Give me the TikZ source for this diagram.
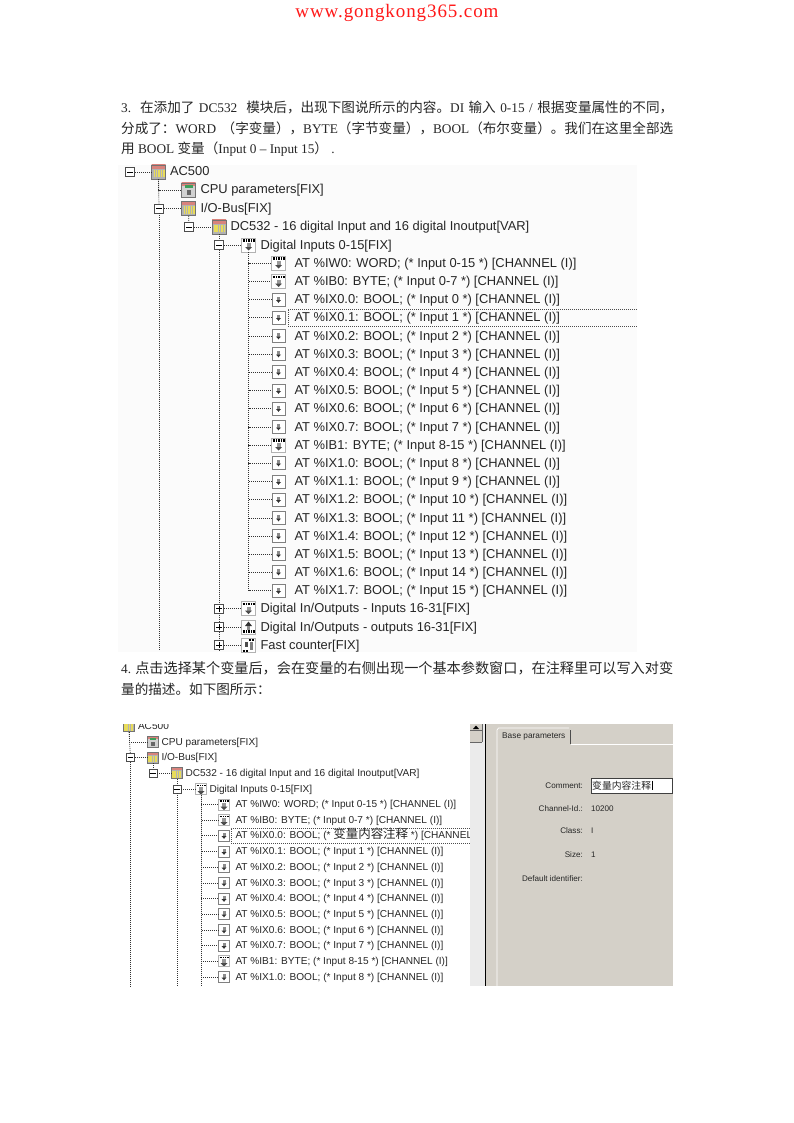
\documentclass[tikz,border=0pt]{standalone}
\usepackage{fontspec}
\usetikzlibrary{positioning}
\setmainfont{Liberation Serif}
\newfontfamily\cjk[Scale=1.022]{Noto Sans CJK SC}
\newfontfamily\treefont{Liberation Sans}
\newfontfamily\webfont[LetterSpace=4.8]{Liberation Serif}
\newcommand{\fulline}[1]{\hbox to 552pt{#1}}
\newcommand{\zdou}{^^^^ff0c}
\newcommand{\zmao}{^^^^ff1a}
\newcommand{\zlp}{^^^^ff08}
\newcommand{\zrp}{^^^^ff09}
\definecolor{panelgrey}{HTML}{D4D0C8}
\definecolor{sheetwhite}{HTML}{FBFBFB}
\definecolor{rackred}{HTML}{D9837C}
\definecolor{rackyellow}{HTML}{E8DC5A}
\definecolor{cpugreen}{HTML}{3E9E5A}
\tikzset{
  para/.style={anchor=west,inner sep=0pt,font=\fontsize{13.3}{15}\selectfont,text=black!85},
  treeline/.style={draw=black!80,line width=0.7pt,dash pattern=on 1pt off 1pt},
  selbox/.style={draw=black!70,line width=0.6pt,dash pattern=on 1pt off 1pt},
  expbox/.style={draw=black!70,fill=white,inner sep=0pt,minimum size=9pt,line width=0.6pt,
    path picture={\draw[black,line width=0.7pt] ([shift={(-3,0)}]path picture bounding box.center) -- ++(6,0);}},
  expplus/.style={expbox,
    path picture={\draw[black,line width=0.7pt] ([shift={(-3,0)}]path picture bounding box.center) -- ++(6,0)
      ([shift={(0,-3)}]path picture bounding box.center) -- ++(0,6);}},
  iconbase/.style={inner sep=0pt,minimum width=#1,minimum height=#1,draw=black!55,fill=black!30,line width=0.6pt},
  iconbase/.default=13pt,
  rackicon/.style={iconbase=#1,
    path picture={\fill[rackred] ([shift={(-8,-8)}]path picture bounding box.center) rectangle ++(16,5);
      \draw[rackyellow,line width=#1*0.55,dash pattern=on 1.5pt off 0.9pt] ([shift={(-5,1.5)}]path picture bounding box.center) -- ++(11,0);}},
  rackicon/.default=14pt,
  cpuicon/.style={iconbase=14pt,fill=black!18,
    path picture={\fill[rackred] ([shift={(-8,-8)}]path picture bounding box.center) rectangle ++(16,4);
      \fill[cpugreen] ([shift={(-4,-4.5)}]path picture bounding box.center) rectangle ++(8,2.5);
      \fill[black!60] ([shift={(-2,0)}]path picture bounding box.center) rectangle ++(4,5);}},
  bitsicon/.style={iconbase=#1,fill=white,draw=black!30,
    path picture={\draw[black,line width=#1*0.16,dash pattern=on 0.9pt off 0.8pt] ([shift={(-6,#1*0.32)}]path picture bounding box.center) -- ++(12,0);
      \fill[black!40] ([shift={(-2,-2)}]path picture bounding box.center) rectangle ++(4,5);
      \fill[black!70] ([shift={(-3.5,2)}]path picture bounding box.center) -- ++(7,0) -- ++(-3.5,3.5) -- cycle;}},
  bitsicon/.default=14pt,
  boolicon/.style={iconbase=#1,fill=white,draw=black!50,
    path picture={\fill[black!45] ([shift={(-1.5,-3)}]path picture bounding box.center) rectangle ++(3,4);
      \fill[black!80] ([shift={(-2.5,0.5)}]path picture bounding box.center) -- ++(5,0) -- ++(-2.5,2.8) -- cycle;}},
  boolicon/.default=13pt,
  outicon/.style={iconbase=14pt,fill=white,draw=black!30,
    path picture={\draw[black,line width=2.2pt,dash pattern=on 0.9pt off 0.8pt] ([shift={(-6,4.5)}]path picture bounding box.center) -- ++(12,0);
      \fill[black!80] ([shift={(-3.5,-1)}]path picture bounding box.center) -- ++(7,0) -- ++(-3.5,-4.5) -- cycle;
      \fill[black!45] ([shift={(-1.5,-1)}]path picture bounding box.center) rectangle ++(3,3.5);}},
  fasticon/.style={iconbase=14pt,fill=white,draw=black!30,
    path picture={\draw[black,line width=2pt,dash pattern=on 0.9pt off 0.7pt] ([shift={(0,-5.5)}]path picture bounding box.center) -- ++(6,0)
        ([shift={(-6,5.5)}]path picture bounding box.center) -- ++(6,0);
      \fill[black!70] ([shift={(-4,-3)}]path picture bounding box.center) rectangle ++(3,5);
      \fill[black!50] ([shift={(1,-3)}]path picture bounding box.center) rectangle ++(3,8);}},
  rowa/.style={anchor=west,inner sep=0pt,text height=10.5pt,text depth=2.5pt,font=\treefont\fontsize{12.9}{14}\selectfont,text=black!85},
  rowb/.style={anchor=west,inner sep=0pt,text height=8.5pt,text depth=2pt,font=\treefont\fontsize{10.1}{12}\selectfont,text=black!85},
  formlabel/.style={anchor=east,inner sep=0pt,font=\treefont\fontsize{8.1}{10}\selectfont,text=black!85},
  formvalue/.style={anchor=west,inner sep=0pt,font=\treefont\fontsize{8.1}{10}\selectfont,text=black!85},
}
\begin{document}
\begin{tikzpicture}[x=1pt,y=-1pt]
\useasboundingbox (0,0) rectangle (794,1123);
\fill[white] (0,0) rectangle (794,1123);
% header and the two paragraphs
\node[anchor=center,inner sep=0pt,text=red!90,font=\webfont\fontsize{19}{20}\selectfont] (site) at (397,13) {www.gongkong365.com};
\node[para] (p1) at (121,107) {\fulline{3.\ \ {\cjk 在添加了} DC532\ \ {\cjk 模块后\zdou 出现下图说所示的内容。}DI {\cjk 输入} 0-15 / {\cjk 根据变量属性的不同\zdou}}};
\node[para] (p2) at (121,128) {\fulline{{\cjk 分成了\zmao}WORD {\cjk\zlp 字变量\zrp\zdou}BYTE{\cjk\zlp 字节变量\zrp\zdou}BOOL{\cjk\zlp 布尔变量\zrp 。我们在这里全部选}}};
\node[para] (p3) at (121,149) {{\cjk 用} BOOL {\cjk 变量\zlp}Input 0 -- Input 15{\cjk\zrp}\ .};
\node[para] (p4) at (121,668) {\fulline{4.\ {\cjk\fontsize{13.85}{15}\selectfont 点击选择某个变量后\zdou 会在变量的右侧出现一个基本参数窗口\zdou 在注释里可以写入对变}}};
\node[para] (p5) at (121,689) {{\cjk 量的描述。如下图所示\zmao}};
% first screenshot
\fill[sheetwhite] (118,165) rectangle (637,652);
\node[expbox] (abox) at (130,172) {};
\node[rackicon] (aroot) at (158.5,172) {};
\node[rowa,right=4pt of aroot] (aroott) {AC500};
\node[cpuicon] (acpu) at (188.5,190) {};
\node[rowa,right=4.5pt of acpu] (acput) {CPU parameters[FIX]};
\node[expbox] (aiobox) at (159,208.5) {};
\node[rackicon] (aio) at (188.5,208.5) {};
\node[rowa,right=4.5pt of aio] (aiot) {I/O-Bus[FIX]};
\node[expbox] (adcbox) at (189,227) {};
\node[rackicon] (adc) at (219,227) {};
\node[rowa,right=4pt of adc] (adct) {DC532 - 16 digital Input and 16 digital Inoutput[VAR]};
\node[expbox] (adibox) at (219,245) {};
\node[bitsicon] (adi) at (248.5,245) {};
\node[rowa,right=4.5pt of adi] (adit) {Digital Inputs 0-15[FIX]};
\node[bitsicon] (aw0) at (278.5,263) {};
\node[rowa,right=8.5pt of aw0] (aw0t) {AT \%IW0: WORD; (* Input 0-15 *) [CHANNEL (I)]};
\node[bitsicon] (ab0) at (278.5,281.5) {};
\node[rowa,right=8.5pt of ab0] (ab0t) {AT \%IB0: BYTE; (* Input 0-7 *) [CHANNEL (I)]};
\node[boolicon] (ax00) at (278.5,299.5) {};
\node[rowa,right=9pt of ax00] (ax00t) {AT \%IX0.0: BOOL; (* Input 0 *) [CHANNEL (I)]};
\node[boolicon] (ax01) at (278.5,317.5) {};
\node[rowa,right=9pt of ax01] (ax01t) {AT \%IX0.1: BOOL; (* Input 1 *) [CHANNEL (I)]};
\node[boolicon] (ax02) at (278.5,336) {};
\node[rowa,right=9pt of ax02] (ax02t) {AT \%IX0.2: BOOL; (* Input 2 *) [CHANNEL (I)]};
\node[boolicon] (ax03) at (278.5,354) {};
\node[rowa,right=9pt of ax03] (ax03t) {AT \%IX0.3: BOOL; (* Input 3 *) [CHANNEL (I)]};
\node[boolicon] (ax04) at (278.5,372) {};
\node[rowa,right=9pt of ax04] (ax04t) {AT \%IX0.4: BOOL; (* Input 4 *) [CHANNEL (I)]};
\node[boolicon] (ax05) at (278.5,390.5) {};
\node[rowa,right=9pt of ax05] (ax05t) {AT \%IX0.5: BOOL; (* Input 5 *) [CHANNEL (I)]};
\node[boolicon] (ax06) at (278.5,408.5) {};
\node[rowa,right=9pt of ax06] (ax06t) {AT \%IX0.6: BOOL; (* Input 6 *) [CHANNEL (I)]};
\node[boolicon] (ax07) at (278.5,427) {};
\node[rowa,right=9pt of ax07] (ax07t) {AT \%IX0.7: BOOL; (* Input 7 *) [CHANNEL (I)]};
\node[bitsicon] (ab1) at (278.5,445) {};
\node[rowa,right=8.5pt of ab1] (ab1t) {AT \%IB1: BYTE; (* Input 8-15 *) [CHANNEL (I)]};
\node[boolicon] (ax10) at (278.5,463) {};
\node[rowa,right=9pt of ax10] (ax10t) {AT \%IX1.0: BOOL; (* Input 8 *) [CHANNEL (I)]};
\node[boolicon] (ax11) at (278.5,481.5) {};
\node[rowa,right=9pt of ax11] (ax11t) {AT \%IX1.1: BOOL; (* Input 9 *) [CHANNEL (I)]};
\node[boolicon] (ax12) at (278.5,499.5) {};
\node[rowa,right=9pt of ax12] (ax12t) {AT \%IX1.2: BOOL; (* Input 10 *) [CHANNEL (I)]};
\node[boolicon] (ax13) at (278.5,518) {};
\node[rowa,right=9pt of ax13] (ax13t) {AT \%IX1.3: BOOL; (* Input 11 *) [CHANNEL (I)]};
\node[boolicon] (ax14) at (278.5,536) {};
\node[rowa,right=9pt of ax14] (ax14t) {AT \%IX1.4: BOOL; (* Input 12 *) [CHANNEL (I)]};
\node[boolicon] (ax15) at (278.5,554) {};
\node[rowa,right=9pt of ax15] (ax15t) {AT \%IX1.5: BOOL; (* Input 13 *) [CHANNEL (I)]};
\node[boolicon] (ax16) at (278.5,572) {};
\node[rowa,right=9pt of ax16] (ax16t) {AT \%IX1.6: BOOL; (* Input 14 *) [CHANNEL (I)]};
\node[boolicon] (ax17) at (278.5,590.5) {};
\node[rowa,right=9pt of ax17] (ax17t) {AT \%IX1.7: BOOL; (* Input 15 *) [CHANNEL (I)]};
\node[expplus] (aiibox) at (219,608.5) {};
\node[bitsicon] (aii) at (248.5,608.5) {};
\node[rowa,right=4.5pt of aii] (aiit) {Digital In/Outputs - Inputs 16-31[FIX]};
\node[expplus] (aoobox) at (219,627) {};
\node[outicon] (aoo) at (248.5,627) {};
\node[rowa,right=4.5pt of aoo] (aoot) {Digital In/Outputs - outputs 16-31[FIX]};
\node[expplus] (afcbox) at (219,645) {};
\node[fasticon] (afc) at (248.5,645) {};
\node[rowa,right=4.5pt of afc] (afct) {Fast counter[FIX]};
\coordinate (aend1) at (159,651);
\coordinate (aend2) at (219,651);
\draw[treeline] (abox) -- (aroot);
\draw[treeline] (aroot) -- (aiobox);
\draw[treeline] (aiobox) -- (aend1);
\draw[treeline] (aroot.south) |- (acpu);
\draw[treeline] (aiobox) -- (aio);
\draw[treeline] (aio) -- (adcbox);
\draw[treeline] (adcbox) -- (adc);
\draw[treeline] (adc) -- (adibox);
\draw[treeline] (adibox) -- (adi);
\draw[treeline] (adibox) -- (aiibox);
\draw[treeline] (aiibox) -- (aoobox);
\draw[treeline] (aoobox) -- (afcbox);
\draw[treeline] (afcbox) -- (aend2);
\draw[treeline] (aiibox) -- (aii);
\draw[treeline] (aoobox) -- (aoo);
\draw[treeline] (afcbox) -- (afc);
\draw[treeline] (adi.south) |- (aw0);
\draw[treeline] (adi.south) |- (ab0);
\draw[treeline] (adi.south) |- (ax00);
\draw[treeline] (adi.south) |- (ax01);
\draw[treeline] (adi.south) |- (ax02);
\draw[treeline] (adi.south) |- (ax03);
\draw[treeline] (adi.south) |- (ax04);
\draw[treeline] (adi.south) |- (ax05);
\draw[treeline] (adi.south) |- (ax06);
\draw[treeline] (adi.south) |- (ax07);
\draw[treeline] (adi.south) |- (ab1);
\draw[treeline] (adi.south) |- (ax10);
\draw[treeline] (adi.south) |- (ax11);
\draw[treeline] (adi.south) |- (ax12);
\draw[treeline] (adi.south) |- (ax13);
\draw[treeline] (adi.south) |- (ax14);
\draw[treeline] (adi.south) |- (ax15);
\draw[treeline] (adi.south) |- (ax16);
\draw[treeline] (adi.south) |- (ax17);
\draw[selbox] (637,309) -- (288,309) -- (288,326) -- (637,326);
% second screenshot, tree side
\begin{scope}
\clip (121,724) rectangle (470,986);
\node[rackicon=11pt] (broot) at (129,726) {};
\node[rowb,right=3pt of broot] (broott) {AC500};
\node[cpuicon,scale=0.8] (bcpu) at (153,742) {};
\node[rowb,right=2.5pt of bcpu] (bcput) {CPU parameters[FIX]};
\node[expbox,scale=0.85] (biobox) at (130.5,757.5) {};
\node[rackicon=11pt] (bio) at (153,757.5) {};
\node[rowb,right=2.5pt of bio] (biot) {I/O-Bus[FIX]};
\node[expbox,scale=0.85] (bdcbox) at (153,773) {};
\node[rackicon=11pt] (bdc) at (177,773) {};
\node[rowb,right=2.5pt of bdc] (bdct) {DC532 - 16 digital Input and 16 digital Inoutput[VAR]};
\node[expbox,scale=0.85] (bdibox) at (177,789) {};
\node[bitsicon=11pt] (bdi) at (201,789) {};
\node[rowb,right=2.5pt of bdi] (bdit) {Digital Inputs 0-15[FIX]};
\node[bitsicon=11pt] (bw0) at (224,804.5) {};
\node[rowb,right=5.5pt of bw0] (bw0t) {AT \%IW0: WORD; (* Input 0-15 *) [CHANNEL (I)]};
\node[bitsicon=11pt] (bb0) at (224,820) {};
\node[rowb,right=5.5pt of bb0] (bb0t) {AT \%IB0: BYTE; (* Input 0-7 *) [CHANNEL (I)]};
\node[boolicon=11pt] (bx00) at (224,835.5) {};
\node[rowb,right=5.5pt of bx00] (bx00t) {AT \%IX0.0: BOOL; (* {\cjk\fontsize{12.2}{12}\selectfont 变量内容注释} *) [CHANNEL (I)]};
\node[boolicon=11pt] (bx01) at (224,851.5) {};
\node[rowb,right=5.5pt of bx01] (bx01t) {AT \%IX0.1: BOOL; (* Input 1 *) [CHANNEL (I)]};
\node[boolicon=11pt] (bx02) at (224,867) {};
\node[rowb,right=5.5pt of bx02] (bx02t) {AT \%IX0.2: BOOL; (* Input 2 *) [CHANNEL (I)]};
\node[boolicon=11pt] (bx03) at (224,883) {};
\node[rowb,right=5.5pt of bx03] (bx03t) {AT \%IX0.3: BOOL; (* Input 3 *) [CHANNEL (I)]};
\node[boolicon=11pt] (bx04) at (224,898.5) {};
\node[rowb,right=5.5pt of bx04] (bx04t) {AT \%IX0.4: BOOL; (* Input 4 *) [CHANNEL (I)]};
\node[boolicon=11pt] (bx05) at (224,914) {};
\node[rowb,right=5.5pt of bx05] (bx05t) {AT \%IX0.5: BOOL; (* Input 5 *) [CHANNEL (I)]};
\node[boolicon=11pt] (bx06) at (224,930) {};
\node[rowb,right=5.5pt of bx06] (bx06t) {AT \%IX0.6: BOOL; (* Input 6 *) [CHANNEL (I)]};
\node[boolicon=11pt] (bx07) at (224,945.5) {};
\node[rowb,right=5.5pt of bx07] (bx07t) {AT \%IX0.7: BOOL; (* Input 7 *) [CHANNEL (I)]};
\node[bitsicon=11pt] (bb1) at (224,961) {};
\node[rowb,right=5.5pt of bb1] (bb1t) {AT \%IB1: BYTE; (* Input 8-15 *) [CHANNEL (I)]};
\node[boolicon=11pt] (bx10) at (224,977) {};
\node[rowb,right=5.5pt of bx10] (bx10t) {AT \%IX1.0: BOOL; (* Input 8 *) [CHANNEL (I)]};
\coordinate (bend1) at (130.5,986);
\coordinate (bend2) at (177,986);
\coordinate (bend3) at (201,986);
\draw[treeline] (broot.south) |- (bcpu);
\draw[treeline] (broot.south) -- (biobox);
\draw[treeline] (biobox) -- (bend1);
\draw[treeline] (biobox) -- (bio);
\draw[treeline] (bio) -- (bdcbox);
\draw[treeline] (bdcbox) -- (bdc);
\draw[treeline] (bdc) -- (bdibox);
\draw[treeline] (bdibox) -- (bend2);
\draw[treeline] (bdibox) -- (bdi);
\draw[treeline] (bdi) -- (bend3);
\draw[treeline] (bdi.south) |- (bw0);
\draw[treeline] (bdi.south) |- (bb0);
\draw[treeline] (bdi.south) |- (bx00);
\draw[treeline] (bdi.south) |- (bx01);
\draw[treeline] (bdi.south) |- (bx02);
\draw[treeline] (bdi.south) |- (bx03);
\draw[treeline] (bdi.south) |- (bx04);
\draw[treeline] (bdi.south) |- (bx05);
\draw[treeline] (bdi.south) |- (bx06);
\draw[treeline] (bdi.south) |- (bx07);
\draw[treeline] (bdi.south) |- (bb1);
\draw[treeline] (bdi.south) |- (bx10);
\draw[selbox] (470,828) -- (231,828) -- (231,843) -- (470,843);
\end{scope}
% scrollbar and the parameter pane
\fill[black!8] (470,724) rectangle (485,986);
\fill[panelgrey] (470,724) rectangle (482,742);
\draw[black!60,line width=0.5pt] (470,730) -- (482,730) (470,742) -- (482,742) (482,724) -- (482,742);
\fill[black] (473,729) -- (479,729) -- (476,725.5) -- cycle;
\draw[black,line width=1.2pt] (485.5,724) -- (485.5,986);
\fill[panelgrey] (486.2,724) rectangle (673,986);
\draw[white,line width=0.7pt] (497,986) -- (497,730) -- (498.5,728) -- (569,728);
\draw[black!70,line width=1pt] (570.5,730) -- (570.5,744);
\draw[white,line width=0.7pt] (571,744) -- (673,744);
\node[formvalue,font=\treefont\fontsize{8.3}{10}\selectfont] (basetab) at (502,736.5) {Base parameters};
\node[formlabel] (clab) at (583,785.5) {Comment:};
\node[anchor=west,draw=black!75,fill=white,line width=0.6pt,inner sep=0pt,minimum width=81.5pt,minimum height=15pt] (cbox) at (590.5,785.5) {};
\node[formvalue,font=\cjk\fontsize{9.6}{11}\selectfont] (cval) at (592,785.5) {变量内容注释};
\draw[black,line width=0.7pt] ([xshift=1pt]cval.north east) -- ([xshift=1pt]cval.south east);
\node[formlabel] (idlab) at (583,809) {Channel-Id.:};
\node[formvalue] (idval) at (591,809) {10200};
\node[formlabel] (classlab) at (583,830.5) {Class:};
\node[formvalue] (classval) at (591,830.5) {I};
\node[formlabel] (sizelab) at (583,854.5) {Size:};
\node[formvalue] (sizeval) at (591,854.5) {1};
\node[formlabel] (deflab) at (583,878.5) {Default identifier:};
\end{tikzpicture}
\end{document}
